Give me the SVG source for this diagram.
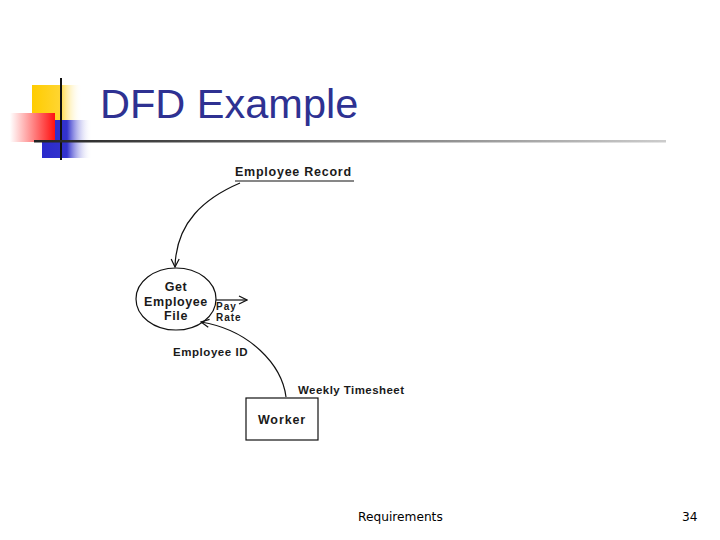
<svg xmlns="http://www.w3.org/2000/svg" width="720" height="540" viewBox="0 0 720 540">
<defs>
<linearGradient id="gy" x1="0" x2="1" y1="0" y2="0"><stop offset="0" stop-color="#FFCC00"/><stop offset="0.55" stop-color="#FFD530"/><stop offset="1" stop-color="#FFFFFF" stop-opacity="0"/></linearGradient>
<linearGradient id="gr" x1="0" x2="1" y1="0" y2="0"><stop offset="0" stop-color="#FFFFFF"/><stop offset="1" stop-color="#FF1010"/></linearGradient>
<linearGradient id="gb" x1="0" x2="1" y1="0" y2="0"><stop offset="0" stop-color="#2A2ACC"/><stop offset="0.5" stop-color="#3333CC"/><stop offset="1" stop-color="#FFFFFF" stop-opacity="0"/></linearGradient>
<linearGradient id="gl" x1="0" x2="1" y1="0" y2="0"><stop offset="0" stop-color="#222222"/><stop offset="1" stop-color="#CCCCCC"/></linearGradient>
<marker id="arr" viewBox="0 0 10 10" refX="9" refY="5" markerWidth="10" markerHeight="10" markerUnits="userSpaceOnUse" orient="auto">
<path d="M1,1 L9,5 L1,9" fill="none" stroke="#111" stroke-width="1.2"/>
</marker>
<style>
.t{font-family:"Liberation Sans",Arial,sans-serif;font-weight:bold;fill:#1a1a1a}
.ln{fill:none;stroke:#111;stroke-width:1.2}
</style>
</defs>
<rect width="720" height="540" fill="#fff"/>
<g id="decoration">
<rect x="32" y="85" width="50" height="35" fill="url(#gy)"/>
<rect x="42" y="120" width="50" height="38" fill="url(#gb)"/>
<rect x="10" y="113" width="45" height="29" fill="url(#gr)"/>
<line x1="61" y1="78" x2="61" y2="160" stroke="#111" stroke-width="2"/>
<rect x="34" y="140" width="632" height="2.5" fill="url(#gl)"/>
</g>
<text id="title" x="100" y="118" font-family="Liberation Sans,Arial,sans-serif" font-size="41.5" fill="#2E3192">DFD Example</text>
<g id="connectors">
<path class="ln" d="M240,183 C205,198 176,222 175,267" marker-end="url(#arr)"/>
<line x1="216" y1="300" x2="247" y2="300" class="ln" marker-end="url(#arr)"/>
<path class="ln" d="M286,397 C282,365 250,330 201,322" marker-end="url(#arr)"/>
<line x1="235" y1="181" x2="354" y2="181" stroke="#111" stroke-width="1.2"/>
</g>
<g id="employee-record">
<text class="t" x="235" y="176" font-size="12.5" letter-spacing="0.75">Employee Record</text>
</g>
<g id="get-employee-file">
<ellipse cx="176" cy="299" rx="40" ry="31" fill="none" stroke="#111" stroke-width="1.2"/>
<text class="t" x="176" y="291" font-size="12.5" letter-spacing="0.6" text-anchor="middle">Get</text>
<text class="t" x="176" y="306" font-size="12.5" letter-spacing="0.6" text-anchor="middle">Employee</text>
<text class="t" x="176" y="320" font-size="12.5" letter-spacing="0.6" text-anchor="middle">File</text>
</g>
<g id="pay-rate">
<text class="t" x="216" y="309.5" font-size="10" letter-spacing="1">Pay</text>
<text class="t" x="216" y="320.5" font-size="10" letter-spacing="1">Rate</text>
</g>
<g id="employee-id">
<text class="t" x="173" y="356" font-size="11.5" letter-spacing="0.55">Employee ID</text>
</g>
<g id="weekly-timesheet">
<text class="t" x="298" y="394" font-size="11.5" letter-spacing="0.45">Weekly Timesheet</text>
</g>
<g id="worker">
<rect x="246" y="398" width="72" height="42" fill="none" stroke="#111" stroke-width="1.2"/>
<text class="t" x="282" y="424" font-size="12.5" letter-spacing="0.9" text-anchor="middle">Worker</text>
</g>
<g id="footer">
<text x="358" y="521" font-family="DejaVu Sans,Tahoma,sans-serif" font-size="12.2" fill="#000">Requirements</text>
<text x="682" y="521" font-family="DejaVu Sans,Tahoma,sans-serif" font-size="12.2" fill="#000">34</text>
</g>
</svg>
